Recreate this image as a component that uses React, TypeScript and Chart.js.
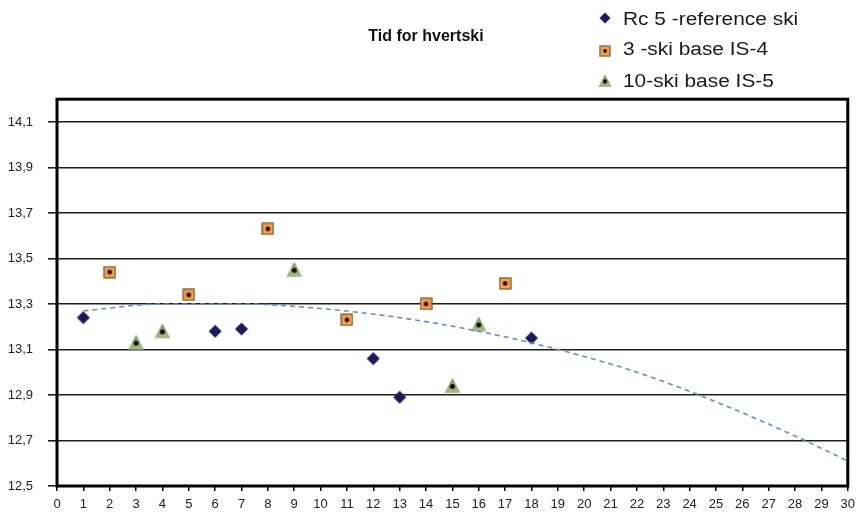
import { useEffect, useRef } from "react";
import { Chart, registerables } from "chart.js";

Chart.register(...registerables);

// ---- data ----
const chartTitle = "Tid for hvertski";
const seriesNames = ["Rc 5 -reference ski", "3 -ski base IS-4", "10-ski base IS-5"];

const refX = [1, 6, 7, 12, 13, 18];
const refY = [13.24, 13.18, 13.19, 13.06, 12.89, 13.15];

const is4X = [2, 5, 8, 11, 14, 17];
const is4Y = [13.44, 13.34, 13.63, 13.23, 13.3, 13.39];

const is5X = [3, 4, 9, 15, 16];
const is5Y = [13.13, 13.18, 13.45, 12.94, 13.21];

// dashed trend line
const trendX = [1, 4, 7, 10, 13, 16, 19, 22, 25, 28, 30];
const trendY = [13.27, 13.3, 13.3, 13.28, 13.24, 13.18, 13.1, 13.0, 12.87, 12.72, 12.61];

const yTicks = [12.5, 12.7, 12.9, 13.1, 13.3, 13.5, 13.7, 13.9, 14.1];
const xTicks = [0, 1, 2, 3, 4, 5, 6, 7, 8, 9, 10, 11, 12, 13, 14, 15, 16, 17, 18, 19, 20, 21, 22, 23, 24, 25, 26, 27, 28, 29, 30];

const FONT = "'Liberation Sans', Arial, sans-serif";

function makeMarker(kind: string): HTMLCanvasElement {
  const c = document.createElement("canvas");
  const ctx = c.getContext("2d") as CanvasRenderingContext2D;
  if (kind === "diamond") {
    c.width = 14;
    c.height = 14;
    ctx.beginPath();
    ctx.moveTo(7, 0.5);
    ctx.lineTo(13.5, 7);
    ctx.lineTo(7, 13.5);
    ctx.lineTo(0.5, 7);
    ctx.closePath();
    ctx.fillStyle = "#1b1a56";
    ctx.fill();
  } else if (kind === "square") {
    c.width = 13;
    c.height = 13;
    ctx.fillStyle = "#eea84f";
    ctx.fillRect(1, 1, 11, 11);
    ctx.strokeStyle = "#86562a";
    ctx.lineWidth = 1.3;
    ctx.strokeRect(1, 1, 11, 11);
    ctx.beginPath();
    ctx.arc(6.5, 6.5, 2.4, 0, Math.PI * 2);
    ctx.fillStyle = "#4a0606";
    ctx.fill();
  } else {
    c.width = 17;
    c.height = 18;
    const g = ctx.createLinearGradient(0, 1, 0, 16);
    g.addColorStop(0, "#7f9660");
    g.addColorStop(1, "#a9bb88");
    ctx.beginPath();
    ctx.moveTo(8.5, 1);
    ctx.lineTo(16.5, 16);
    ctx.lineTo(0.5, 16);
    ctx.closePath();
    ctx.fillStyle = g;
    ctx.fill();
    ctx.beginPath();
    ctx.arc(8.5, 9.5, 2.5, 0, Math.PI * 2);
    ctx.fillStyle = "#111111";
    ctx.fill();
  }
  return c;
}

export default function App() {
  const canvasRef = useRef<HTMLCanvasElement | null>(null);

  useEffect(() => {
    document.body.style.margin = "0";
    const canvas = canvasRef.current;
    if (!canvas) return;

    const markers = [makeMarker("diamond"), makeMarker("square"), makeMarker("triangle")];

    const legendPlugin = {
      id: "sideLegend",
      afterDraw(chart: any) {
        const ctx = chart.ctx as CanvasRenderingContext2D;
        const markerRows = [18, 51, 81];
        const textRows = [20, 50, 82];
        ctx.save();
        ctx.font = `18px ${FONT}`;
        ctx.fillStyle = "#1a1a1a";
        ctx.textBaseline = "middle";
        ctx.textAlign = "left";
        seriesNames.forEach((name, i) => {
          const img = markers[i];
          const w = img.width * 0.85;
          const h = img.height * 0.85;
          ctx.drawImage(img, 605 - w / 2, markerRows[i] - h / 2, w, h);
          ctx.save();
          ctx.translate(623, textRows[i]);
          ctx.scale(1.16, 1);
          ctx.fillText(name, 0, 0);
          ctx.restore();
        });
        ctx.restore();
      },
    };

    const framePlugin = {
      id: "plotFrame",
      beforeDatasetsDraw(chart: any) {
        const { ctx, chartArea } = chart;
        ctx.save();
        ctx.strokeStyle = "#000000";
        ctx.lineWidth = 3;
        ctx.strokeRect(chartArea.left, chartArea.top, chartArea.right - chartArea.left, chartArea.bottom - chartArea.top);
        ctx.restore();
      },
    };

    const chart = new Chart(canvas, {
      type: "scatter",
      data: {
        datasets: [
          {
            label: "trend",
            data: trendX.map((x, i) => ({ x, y: trendY[i] })),
            showLine: true,
            borderColor: "#6d8db8",
            borderWidth: 1.6,
            borderDash: [5, 4],
            pointRadius: 0,
            tension: 0.4,
            cubicInterpolationMode: "monotone",
          },
          {
            label: seriesNames[0],
            data: refX.map((x, i) => ({ x, y: refY[i] })),
            pointStyle: markers[0],
          },
          {
            label: seriesNames[1],
            data: is4X.map((x, i) => ({ x, y: is4Y[i] })),
            pointStyle: markers[1],
          },
          {
            label: seriesNames[2],
            data: is5X.map((x, i) => ({ x, y: is5Y[i] })),
            pointStyle: markers[2],
          },
        ],
      } as any,
      options: {
        responsive: false,
        animation: false,
        layout: { padding: { left: 0, right: 9, top: 0, bottom: 0 } },
        plugins: {
          legend: { display: false },
          tooltip: { enabled: false },
          title: {
            display: true,
            text: chartTitle,
            color: "#111111",
            font: { family: FONT, size: 16, weight: "bold" },
            padding: { top: 27, bottom: 53 },
          },
        },
        scales: {
          x: {
            type: "linear",
            min: 0,
            max: 30,
            afterBuildTicks: (scale: any) => {
              scale.ticks = xTicks.map((v) => ({ value: v }));
            },
            afterFit: (scale: any) => {
              scale.height = 27;
            },
            grid: {
              drawOnChartArea: false,
              drawTicks: true,
              tickLength: 5,
              color: "#000000",
              lineWidth: 1.5,
            },
            border: { display: false },
            ticks: {
              autoSkip: false,
              maxRotation: 0,
              padding: 6,
              color: "#222222",
              font: { family: FONT, size: 13 },
            },
          },
          y: {
            type: "linear",
            min: 12.5,
            max: 14.2,
            afterBuildTicks: (scale: any) => {
              scale.ticks = yTicks.map((v) => ({ value: v }));
            },
            afterFit: (scale: any) => {
              scale.width = 57;
            },
            grid: {
              drawOnChartArea: true,
              drawTicks: true,
              tickLength: 9,
              color: "#1e1e1e",
              lineWidth: 1.6,
            },
            border: { display: false },
            ticks: {
              padding: 15,
              color: "#222222",
              font: { family: FONT, size: 13 },
              callback: (v: any) => Number(v).toFixed(1).replace(".", ","),
            },
          },
        },
      } as any,
      plugins: [legendPlugin, framePlugin],
    });

    return () => {
      chart.destroy();
    };
  }, []);

  return (
    <div style={{ width: 861, height: 513, background: "#ffffff" }}>
      <canvas ref={canvasRef} width={861} height={513} style={{ display: "block" }} />
    </div>
  );
}
